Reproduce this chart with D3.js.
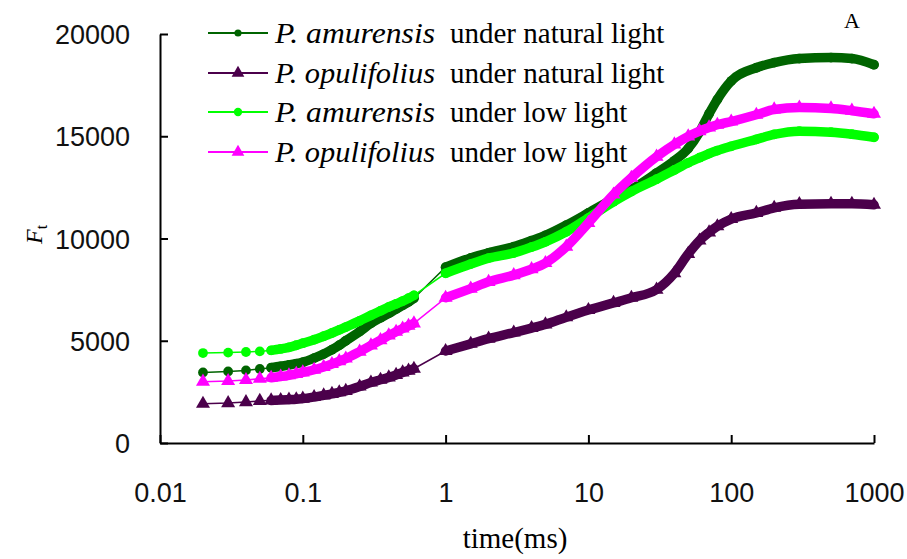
<!DOCTYPE html>
<html>
<head>
<meta charset="utf-8">
<script src="https://cdn.jsdelivr.net/npm/d3@7"></script>
<style>
  html, body { margin: 0; padding: 0; background: #fff; }
  svg { display: block; }
</style>
</head>
<body>
<svg id="chart" width="907" height="559"></svg>
<script>
// ---- data ----
const times = [0.02,0.03,0.04,0.05,0.06,0.07,0.08,0.09,0.1,0.12,0.14,0.16,0.18,0.2,0.25,0.3,0.35,0.4,0.45,0.5,0.55,0.6,
               1,1.5,2,3,4,5,7,10,15,20,30,40,50,60,70,80,100,150,200,300,500,700,1000];

const amurensisNatural = [3450,3500,3550,3620,3680,3750,3820,3880,3950,4150,4350,4560,4780,5000,5450,5850,6120,6340,6550,6730,6900,7080,
                          8600,9050,9300,9600,9900,10150,10650,11250,11950,12400,13200,13800,14400,15200,16100,16800,17700,18350,18600,18800,18850,18800,18500];
const opulifoliusNatural = [1920,1950,2000,2060,2080,2100,2120,2140,2170,2250,2330,2400,2480,2550,2760,2960,3090,3210,3330,3450,3540,3630,
                            4500,4850,5100,5400,5620,5800,6150,6500,6850,7100,7500,8300,9250,9900,10300,10600,10950,11250,11500,11680,11700,11700,11650];
const amurensisLow = [4400,4420,4450,4480,4530,4600,4680,4780,4880,5050,5220,5380,5530,5670,5970,6240,6460,6650,6800,6940,7080,7220,
                      8300,8750,9040,9290,9580,9840,10330,11000,11800,12300,12900,13350,13700,13950,14150,14300,14510,14850,15090,15250,15200,15100,14950];
const opulifoliusLow = [3000,3030,3080,3140,3190,3250,3310,3380,3450,3580,3720,3860,4000,4130,4470,4770,5030,5260,5440,5600,5730,5850,
                        7100,7550,7880,8210,8500,8800,9600,10760,12150,12970,14000,14600,14990,15250,15430,15560,15720,16050,16310,16400,16360,16250,16100];

const speciesNames = ["P. amurensis", "P. opulifolius", "P. amurensis", "P. opulifolius"];
const conditionNames = ["under natural light", "under natural light", "under low light", "under low light"];
const seriesColors = ["#006400", "#4b004b", "#00ff00", "#ff00ff"];
const seriesSymbols = ["circle", "triangle", "circle", "triangle"];
const xTickValues = [0.01, 0.1, 1, 10, 100, 1000];
const xTickLabels = ["0.01", "0.1", "1", "10", "100", "1000"];
const yTickValues = [0, 5000, 10000, 15000, 20000];
const yTickLabels = ["0", "5000", "10000", "15000", "20000"];

const seriesValues = [amurensisNatural, opulifoliusNatural, amurensisLow, opulifoliusLow];

// ---- drawing ----
const svg = d3.select("#chart");
const x = d3.scaleLog().domain([0.01, 1000]).range([160, 874]);
const y = d3.scaleLinear().domain([0, 20000]).range([443, 34]);

const tickFont = "'Liberation Sans', Arial, sans-serif";
const serifFont = "'Liberation Serif', 'Times New Roman', serif";

// axes
const xAxis = d3.axisBottom(x)
  .tickValues(xTickValues)
  .tickFormat((d, i) => xTickLabels[i])
  .tickSizeInner(-8).tickSizeOuter(0).tickPadding(40);
const gx = svg.append("g").attr("transform", `translate(0,${y(0)})`).call(xAxis);

const yAxis = d3.axisLeft(y)
  .tickValues(yTickValues)
  .tickFormat((d, i) => yTickLabels[i])
  .tickSizeInner(-8).tickSizeOuter(0).tickPadding(30);
const gy = svg.append("g").attr("transform", `translate(${x(0.01)},0)`).call(yAxis);

[gx, gy].forEach(g => {
  g.select(".domain").attr("stroke", "#000").attr("stroke-width", 2);
  g.selectAll(".tick line").attr("stroke", "#000").attr("stroke-width", 2);
  g.selectAll(".tick text").attr("fill", "#111")
    .style("font-family", tickFont).style("font-size", "27px");
});
gy.selectAll(".tick text").attr("dy", "0.36em");

// series
const data = seriesValues.map((vals, s) => times.map((t, i) => ({ t, v: vals[i], s })));
const line = d3.line().x(d => x(d.t)).y(d => y(d.v));
const band = d3.line().x(d => x(d.t)).y(d => y(d.v)).curve(d3.curveMonotoneX);
const bandStart1 = times.indexOf(0.06), bandEnd1 = times.indexOf(0.6);
const bandStart2 = times.indexOf(1);

data.forEach((pts, s) => {
  const g = svg.append("g");
  const col = seriesColors[s];
  g.append("path").attr("d", line(pts)).attr("fill", "none")
    .attr("stroke", col).attr("stroke-width", 1.5);
  [pts.slice(bandStart1, bandEnd1 + 1), pts.slice(bandStart2)].forEach(seg => {
    g.append("path").attr("d", band(seg)).attr("fill", "none")
      .attr("stroke", col).attr("stroke-width", 9.5)
      .attr("stroke-linejoin", "round").attr("stroke-linecap", "round");
  });
  const sym = d3.symbol()
    .type(seriesSymbols[s] === "circle" ? d3.symbolCircle : d3.symbolTriangle)
    .size(seriesSymbols[s] === "circle" ? 75 : 85);
  g.selectAll("path.pt").data(pts).join("path").attr("class", "pt")
    .attr("transform", d => `translate(${x(d.t)},${y(d.v)})`)
    .attr("d", sym()).attr("fill", col);
});

// legend
const legendRowsY = [33, 73, 112, 152];
speciesNames.forEach((name, i) => {
  const ly = legendRowsY[i];
  const col = seriesColors[i];
  svg.append("line").attr("x1", 208).attr("x2", 268).attr("y1", ly).attr("y2", ly)
    .attr("stroke", col).attr("stroke-width", 2);
  const sym = d3.symbol()
    .type(seriesSymbols[i] === "circle" ? d3.symbolCircle : d3.symbolTriangle)
    .size(seriesSymbols[i] === "circle" ? (i === 0 ? 40 : 55) : 70);
  svg.append("path").attr("d", sym()).attr("transform", `translate(238,${ly})`).attr("fill", col);
  svg.append("text").attr("x", 275).attr("y", ly + 10)
    .attr("textLength", 160).attr("lengthAdjust", "spacingAndGlyphs")
    .style("font-family", serifFont).style("font-size", "29px").style("font-style", "italic")
    .attr("fill", "#000").text(name);
  svg.append("text").attr("x", 450).attr("y", ly + 10)
    .style("font-family", serifFont).style("font-size", "29px")
    .attr("fill", "#000").text(conditionNames[i]);
});

// panel letter
svg.append("text").attr("x", 852).attr("y", 28).attr("text-anchor", "middle")
  .style("font-family", serifFont).style("font-size", "22px").attr("fill", "#000").text("A");

// axis titles
svg.append("text").attr("x", 515).attr("y", 548).attr("text-anchor", "middle")
  .style("font-family", serifFont).style("font-size", "29px").attr("fill", "#000").text("time(ms)");

const yt = svg.append("text").attr("transform", "translate(42,244) rotate(-90)")
  .style("font-family", serifFont).style("font-size", "24px").attr("fill", "#000");
yt.append("tspan").style("font-style", "italic").text("F");
yt.append("tspan").attr("dy", 5).style("font-size", "16px").text("t");
</script>
</body>
</html>
